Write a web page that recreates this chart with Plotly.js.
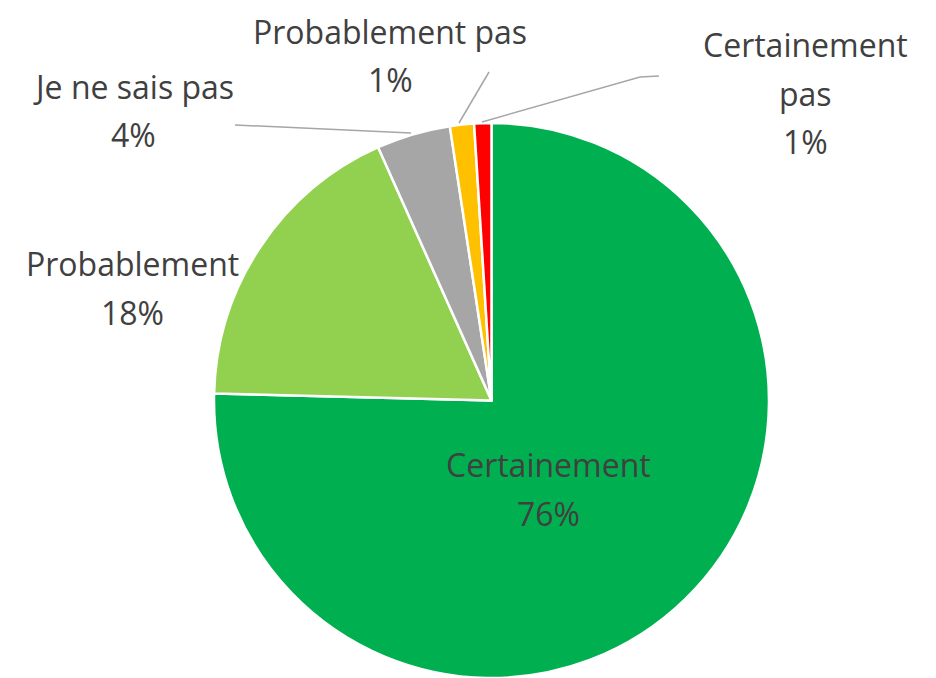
<!DOCTYPE html>
<html>
<head>
<meta charset="utf-8">
<script src="https://cdn.plot.ly/plotly-3.0.1.min.js"></script>
<style>html,body{margin:0;padding:0;background:#fff;}#chart{width:936px;height:678px;}</style>
</head>
<body>
<div id="chart"></div>
<script>
// Data
const categories = ["Certainement", "Probablement", "Je ne sais pas", "Probablement pas", "Certainement pas"];
const values = [75.4, 17.9, 4.3, 1.4, 1.0];
const percentLabels = ["76%", "18%", "4%", "1%", "1%"];
// Label line breaks (text lines per category)
const labelLines = [
  ["Certainement", "76%"],
  ["Probablement", "18%"],
  ["Je ne sais pas", "4%"],
  ["Probablement pas", "1%"],
  ["Certainement", "pas", "1%"]
];
const colors = ["#00B050", "#92D050", "#A6A6A6", "#FFC000", "#FF0000"];

// Layout helpers (pixel -> paper)
const W = 936, H = 678;
const px = x => x / W;
const py = y => 1 - y / H;

// label anchor positions (centre x, first line y) and line spacing
const labelPos = [
  [548, 465],
  [132, 264],
  [133, 86],
  [390, 31],
  [805, 45]
];
const lineGap = 48;

const annotations = [];
labelLines.forEach((lines, i) => {
  lines.forEach((t, j) => {
    annotations.push({
      text: t, xref: "paper", yref: "paper",
      x: px(labelPos[i][0]), y: py(labelPos[i][1] + j * lineGap),
      xanchor: "center", yanchor: "middle", showarrow: false,
      font: {family: "'Open Sans', Lato, sans-serif", size: 32, color: "#404040"}
    });
  });
});

const leaderPaths = [
  [[235,125],[411,133]],
  [[489,72],[459,123]],
  [[482,122],[640,77],[659,76]]
];
const shapes = leaderPaths.map(pts => ({
  type: "path", xref: "paper", yref: "paper",
  path: pts.map((p, k) => (k ? "L" : "M") + px(p[0]) + "," + py(p[1])).join(" "),
  line: {color: "#A6A6A6", width: 1.5}
}));

const trace = {
  type: "pie",
  labels: categories,
  values: values,
  text: percentLabels,
  sort: false,
  direction: "clockwise",
  rotation: 0,
  textinfo: "none",
  hoverinfo: "label+text",
  marker: {colors: colors, line: {color: "#FFFFFF", width: 2.5}},
  domain: {x: [px(214), px(769)], y: [py(678), py(123)]},
  showlegend: false
};

const layout = {
  width: W, height: H,
  margin: {l: 0, r: 0, t: 0, b: 0},
  paper_bgcolor: "#FFFFFF",
  plot_bgcolor: "#FFFFFF",
  showlegend: false,
  annotations: annotations,
  shapes: shapes
};

Plotly.newPlot("chart", [trace], layout, {displayModeBar: false, staticPlot: true});
</script>
</body>
</html>
